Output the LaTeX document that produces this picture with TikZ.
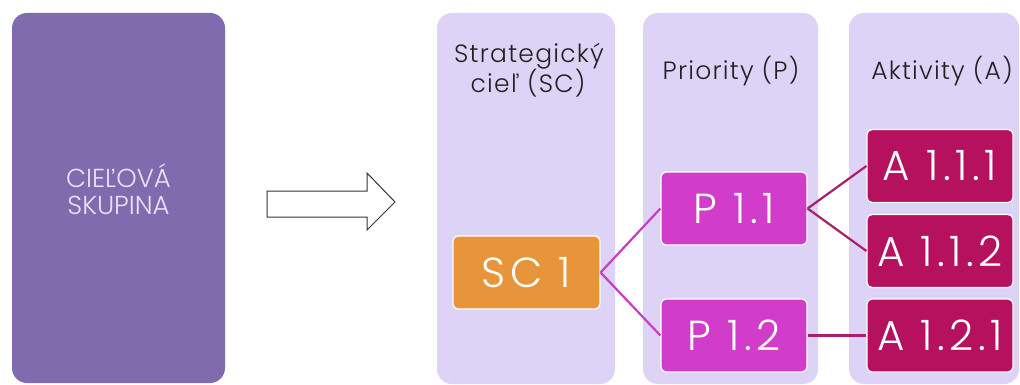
\documentclass[tikz,border=0pt]{standalone}
\usepackage{fontspec}
\setmainfont{Poppins}[UprightFont=* Light]
\newfontfamily\boxfont{Poppins}[UprightFont=* Light, LetterSpace=11]
\newfontfamily\headfont{Poppins}[UprightFont=* Light, LetterSpace=5]
\definecolor{leftbox}{HTML}{7F6BAE}
\definecolor{leftxt}{HTML}{EAE2F8}
\definecolor{colbg}{HTML}{DDD3F7}
\definecolor{scfill}{HTML}{E8943A}
\definecolor{pfill}{HTML}{D23CCB}
\definecolor{afill}{HTML}{B5115E}
\definecolor{lineP}{HTML}{C83DC8}
\definecolor{lineA}{HTML}{A8206A}
\definecolor{headtxt}{HTML}{222222}
\tikzset{
  colpanel/.style={fill=colbg, rounded corners=15pt},
  heading/.style={text=headtxt, font=\headfont\fontsize{25}{30}\selectfont, inner sep=0pt, anchor=base},
  itembox/.style={draw=white, line width=1.2pt, rounded corners=5pt, text=white,
     font=\boxfont\fontsize{42}{44}\selectfont, inner sep=0pt, minimum width=146pt, minimum height=73pt},
  scbox/.style={itembox, fill=scfill, minimum width=147pt},
  pbox/.style={itembox, fill=pfill},
  abox/.style={itembox, fill=afill},
  pline/.style={draw=lineP, line width=2.2pt},
  aline/.style={draw=lineA, line width=2.2pt},
}
\begin{document}
\begin{tikzpicture}[x=1pt,y=-1pt]
\useasboundingbox (0,0) rectangle (1020,385);
% left box
\node[fill=leftbox, rounded corners=15pt, minimum width=213pt, minimum height=370pt, inner sep=0pt] (target) at (118.5,198) {};
\node[text=leftxt, font=\fontsize{26}{27}\selectfont, align=center, inner sep=0pt] (targettxt) at (118.5,189) {CIEĽOVÁ\\SKUPINA};
% block arrow
\draw[draw=black!80, line width=1pt, fill=white, line join=miter]
  (267,191) -- (367,191) -- (367,173) -- (395,202) -- (367,230) -- (367,217) -- (267,217) -- cycle;
% columns
\fill[colpanel] (437,13) rectangle (615,384);
\fill[colpanel] (643,13) rectangle (818,384);
\fill[colpanel] (849,13) rectangle (1019,384);
% headings
\node[heading] (h1a) at (529,63) {Strategický};
\node[heading] (h1b) at (528,93) {cieľ (SC)};
\node[heading] (h2) at (731,80) {Priority (P)};
\node[heading] (h3) at (942,80) {Aktivity (A)};
% connectors
\node[scbox] (sc1) at (526.5,272.5) {SC 1};
\node[pbox] (p11) at (734,208.5) {P 1.1};
\node[pbox] (p12) at (734,335.5) {P 1.2};
\node[abox] (a111) at (940,166) {A 1.1.1};
\node[abox] (a112) at (940,251) {A 1.1.2};
\node[abox] (a121) at (940,335.5) {A 1.2.1};
\begin{scope}[on background layer/.style={}]
\draw[pline] (sc1.east) -- (p11.west);
\draw[pline] (sc1.east) -- (p12.west);
\draw[aline] (p11.east) -- (a111.west);
\draw[aline] (p11.east) -- (a112.west);
\draw[aline] (p12.east) -- (a121.west);
\end{scope}
\end{tikzpicture}
\end{document}
